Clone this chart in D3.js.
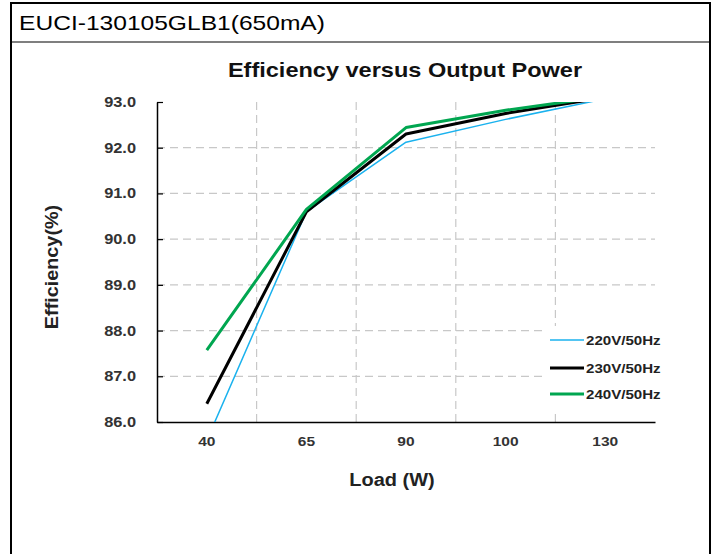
<!DOCTYPE html>
<html>
<head>
<meta charset="utf-8">
<script src="https://cdn.jsdelivr.net/npm/d3@7"></script>
<style>
  body { margin: 0; background: #fff; }
  svg { display: block; font-family: "Liberation Sans", Arial, sans-serif; }
  .grid line { stroke: #c8c8c8; stroke-dasharray: 8 5; stroke-width: 1.2; }
</style>
</head>
<body>
<div id="chart"></div>
<script>
/* Efficiency vs output power */

const width = 717,
    height = 554,
    margin = ({ top: 102, right: 62, bottom: 132, left: 157 });

const loads = ["40", "65", "90", "100", "130"];
const yTicks = [86, 87, 88, 89, 90, 91, 92, 93];
const seriesNames = ["220V/50Hz", "230V/50Hz", "240V/50Hz"];
const v220 = [85.6, 90.6, 92.12, 92.62, 93.07];
const v230 = [86.4, 90.6, 92.3, 92.75, 93.1];
const v240 = [87.57, 90.65, 92.44, 92.82, 93.12];
const colors = ["#1ab2ee", "#000000", "#00a650"];
const widths = [1.5, 3, 3];

const series = [v220, v230, v240];

// the source picture is a bit wider than tall, so stretch text sideways
const stretch = (sel, k) => sel.each(function () {
    const w = this.getComputedTextLength();
    d3.select(this).attr("textLength", w * k).attr("lengthAdjust", "spacingAndGlyphs");
});

const svg = d3.select("#chart")
    .append("svg")
    .attr("width", width)
    .attr("height", height);

// table frame
svg.append("path")
    .attr("d", "M11,554 V3 H710 V554")
    .attr("fill", "none")
    .attr("stroke", "#000")
    .attr("stroke-width", 2);
svg.append("line")
    .attr("x1", 11).attr("x2", 710)
    .attr("y1", 42).attr("y2", 42)
    .attr("stroke", "#000").attr("stroke-width", 1.2);

svg.append("text")
    .attr("x", 19)
    .attr("y", 30)
    .attr("font-size", 21)
    .attr("fill", "#000")
    .text("EUCI-130105GLB1(650mA)")
    .call(stretch, 1.17);

let x = d3.scaleBand()
    .domain(loads)
    .range([margin.left, width - margin.right]);

let y = d3.scaleLinear()
    .domain([86, 93])
    .range([height - margin.bottom, margin.top]);

const cx = d => x(d) + x.bandwidth() / 2;

// horizontal grid
svg.append("g")
    .attr("class", "grid")
    .selectAll("line")
    .data(yTicks.filter(t => t > 86 && t < 93))
    .join("line")
    .attr("x1", margin.left)
    .attr("x2", width - margin.right)
    .attr("y1", d => y(d))
    .attr("y2", d => y(d));

// vertical grid at category boundaries
svg.append("g")
    .attr("class", "grid")
    .selectAll("line")
    .data(loads.slice(1))
    .join("line")
    .attr("x1", d => x(d))
    .attr("x2", d => x(d))
    .attr("y1", y(93))
    .attr("y2", y(86));

// y axis
svg.append("g")
    .attr("transform", `translate(${margin.left},0)`)
    .call(d3.axisLeft(y).tickValues(yTicks).tickSize(-6).tickPadding(21)
        .tickFormat(d3.format(".1f")).tickSizeOuter(0))
    .call(g => g.select(".domain").attr("stroke-width", 1.5))
    .call(g => g.selectAll(".tick line").attr("stroke-width", 1.2))
    .call(g => g.selectAll("text")
        .attr("font-size", 14)
        .attr("font-weight", "bold")
        .attr("fill", "#333")
        .call(stretch, 1.17));

// x axis
svg.append("g")
    .attr("transform", `translate(0,${height - margin.bottom})`)
    .call(d3.axisBottom(x).tickSize(0).tickPadding(14).tickSizeOuter(0))
    .call(g => g.select(".domain").attr("stroke-width", 1.5))
    .call(g => g.selectAll("text")
        .attr("font-size", 13.5)
        .attr("font-weight", "bold")
        .attr("fill", "#333")
        .call(stretch, 1.15));

svg.append("text")                  // chart title
    .attr("text-anchor", "middle")
    .attr("x", 405)
    .attr("y", 77)
    .attr("font-size", 21)
    .attr("font-weight", "bold")
    .attr("fill", "#111")
    .text("Efficiency versus Output Power")
    .call(stretch, 1.12);

svg.append("text")                  // x label
    .attr("text-anchor", "middle")
    .attr("x", 392)
    .attr("y", 486)
    .attr("font-size", 17.5)
    .attr("font-weight", "bold")
    .attr("fill", "#222")
    .text("Load (W)")
    .call(stretch, 1.14);

svg.append("text")                  // y label
    .attr("text-anchor", "middle")
    .attr("transform", "translate(58,267) rotate(-90)")
    .attr("font-size", 18)
    .attr("font-weight", "bold")
    .attr("fill", "#222")
    .text("Efficiency(%)")
    .call(stretch, 1.1);

svg.append("clipPath")
    .attr("id", "plot")
    .append("rect")
    .attr("x", margin.left)
    .attr("y", margin.top)
    .attr("width", width - margin.right - margin.left)
    .attr("height", height - margin.bottom - margin.top);

let line = d3.line()
    .x((d, i) => cx(loads[i]))
    .y(d => y(d));

svg.append("g")
    .attr("clip-path", "url(#plot)")
    .selectAll("path")
    .data(series)
    .join("path")
    .attr("d", line)
    .attr("fill", "none")
    .attr("stroke", (d, i) => colors[i])
    .attr("stroke-width", (d, i) => widths[i])
    .attr("stroke-linejoin", "round");

// legend
const legend = svg.append("g");
legend.append("rect")
    .attr("x", 542).attr("y", 326)
    .attr("width", 125).attr("height", 84)
    .attr("fill", "#fff");

const items = legend.selectAll("g")
    .data(seriesNames)
    .join("g")
    .attr("transform", (d, i) => `translate(550,${[340, 368, 394][i]})`);

items.append("line")
    .attr("x1", 0).attr("x2", 34)
    .attr("stroke", (d, i) => colors[i])
    .attr("stroke-width", (d, i) => widths[i]);

items.append("text")
    .attr("x", 36)
    .attr("dy", "0.35em")
    .attr("font-size", 13)
    .attr("font-weight", "bold")
    .attr("fill", "#222")
    .text(d => d)
    .call(stretch, 1.16);
</script>
</body>
</html>
